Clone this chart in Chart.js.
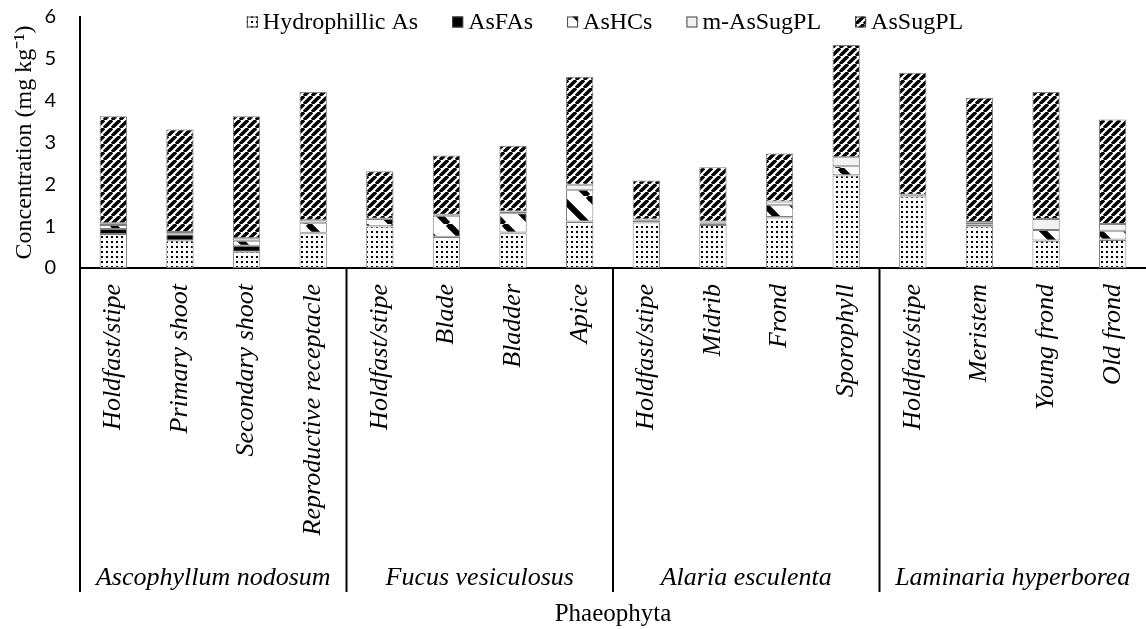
<!DOCTYPE html>
<html>
<head>
<meta charset="utf-8">
<title>Arsenic species in Phaeophyta</title>
<script src="https://cdn.jsdelivr.net/npm/chart.js@4.4.1/dist/chart.umd.min.js"></script>
<style>
    html, body { margin: 0; padding: 0; background: #fff; }
    #wrap { width: 1146px; height: 629px; position: relative; }
</style>
</head>
<body>
<div id="wrap"><canvas id="asChart"></canvas></div>
<script>
// Tissue labels (x axis) and the species they belong to
const tissues = ['Holdfast/stipe', 'Primary shoot', 'Secondary shoot', 'Reproductive receptacle',
    'Holdfast/stipe', 'Blade', 'Bladder', 'Apice',
    'Holdfast/stipe', 'Midrib', 'Frond', 'Sporophyll',
    'Holdfast/stipe', 'Meristem', 'Young frond', 'Old frond'];
const species = ['Ascophyllum nodosum', 'Fucus vesiculosus', 'Alaria esculenta', 'Laminaria hyperborea'];
const tissuesPerSpecies = 4;

// Concentrations (mg kg-1)
const hydrophillicAs = [0.81, 0.66, 0.39, 0.83, 0.99, 0.74, 0.83, 1.10, 1.09, 1.03, 1.21, 2.21, 1.71, 0.99, 0.65, 0.67];
const asFAs          = [0.12, 0.14, 0.14, 0.01, 0.01, 0.01, 0.02, 0.01, 0.01, 0.04, 0.01, 0.01, 0.01, 0.05, 0.01, 0.01];
const asHCs          = [0.10, 0.03, 0.12, 0.24, 0.17, 0.50, 0.46, 0.76, 0.03, 0.02, 0.29, 0.21, 0.02, 0.04, 0.25, 0.21];
const mAsSugPL       = [0.04, 0.03, 0.06, 0.06, 0.01, 0.02, 0.04, 0.12, 0.03, 0.02, 0.08, 0.22, 0.01, 0.02, 0.26, 0.16];
const asSugPL        = [2.56, 2.45, 2.92, 3.07, 1.13, 1.42, 1.57, 2.58, 0.93, 1.30, 1.15, 2.68, 2.92, 2.97, 3.04, 2.50];

const yTicks = [0, 1, 2, 3, 4, 5, 6];

const SERIF = '"Liberation Serif", "Times New Roman", serif';

// Build a repeating fill pattern from a small canvas
function makePattern(size, draw) {
    const c = document.createElement('canvas');
    c.width = size;
    c.height = size;
    const g = c.getContext('2d');
    g.fillStyle = '#ffffff';
    g.fillRect(0, 0, size, size);
    draw(g, size);
    return g.createPattern(c, 'repeat');
}

const dotted = makePattern(5, function(g) {
    g.fillStyle = '#000';
    g.fillRect(1, 1, 2, 2);
});

const upDiagonal = makePattern(8, function(g, s) {
    g.strokeStyle = '#000';
    g.lineWidth = 3.4;
    for (let k = -1; k <= 1; k++) {
        g.beginPath();
        g.moveTo(k * s, s);
        g.lineTo(k * s + s, 0);
        g.stroke();
    }
});

const downDiagonal = makePattern(28, function(g, s) {
    g.strokeStyle = '#000';
    g.lineWidth = 6;
    for (let k = -1; k <= 1; k++) {
        g.beginPath();
        g.moveTo(k * s, 0);
        g.lineTo(k * s + s, s);
        g.stroke();
    }
});

function series(label, data, fill) {
    return {
        label: label,
        data: data,
        backgroundColor: fill,
        borderColor: '#7f7f7f',
        borderWidth: 1,
        borderSkipped: false,
        barPercentage: 0.41,
        categoryPercentage: 1.0
    };
}

// Legend drawn on top of the plot area, like the original
const topLegend = {
    id: 'topLegend',
    afterDraw(chart) {
        const ctx = chart.ctx;
        const box = 11;
        const gap = 5;
        const spacing = 34;
        ctx.save();
        ctx.font = '24px ' + SERIF;
        ctx.textBaseline = 'middle';
        const items = chart.data.datasets;
        let total = 0;
        items.forEach(ds => { total += box + gap + ctx.measureText(ds.label).width; });
        total += spacing * (items.length - 1);
        let x = (chart.chartArea.left + chart.chartArea.right) / 2 - total / 2 - 8;
        const y = 22;
        items.forEach(ds => {
            ctx.fillStyle = ds.backgroundColor;
            ctx.fillRect(x, y - box / 2, box, box);
            ctx.strokeStyle = '#404040';
            ctx.lineWidth = 1;
            ctx.strokeRect(x + 0.5, y - box / 2 + 0.5, box - 1, box - 1);
            ctx.fillStyle = '#000';
            ctx.fillText(ds.label, x + box + gap, y + 1);
            x += box + gap + ctx.measureText(ds.label).width + spacing;
        });
        ctx.restore();
    }
};

// Species separators and species names under the tissue labels
const speciesAxis = {
    id: 'speciesAxis',
    afterDraw(chart) {
        const ctx = chart.ctx;
        const xs = chart.scales.x;
        const area = chart.chartArea;
        const half = (xs.getPixelForValue(1) - xs.getPixelForValue(0)) / 2;
        ctx.save();
        ctx.strokeStyle = '#000';
        ctx.lineWidth = 2;
        for (let i = 0; i < species.length; i++) {
            const first = i * tissuesPerSpecies;
            const last = first + tissuesPerSpecies - 1;
            const x0 = xs.getPixelForValue(first) - half;
            const x1 = xs.getPixelForValue(last) + half;
            ctx.beginPath();
            ctx.moveTo(x0, area.bottom);
            ctx.lineTo(x0, area.bottom + 324);
            ctx.stroke();
            ctx.fillStyle = '#000';
            ctx.font = 'italic 26px ' + SERIF;
            ctx.textAlign = 'center';
            ctx.textBaseline = 'alphabetic';
            ctx.fillText(species[i], (x0 + x1) / 2, area.bottom + 317);
        }
        ctx.restore();
    }
};

document.addEventListener('DOMContentLoaded', function() {
    const ctx = document.getElementById('asChart').getContext('2d');
    new Chart(ctx, {
        type: 'bar',
        data: {
            labels: tissues,
            datasets: [
                series('Hydrophillic As', hydrophillicAs, dotted),
                series('AsFAs', asFAs, '#000000'),
                series('AsHCs', asHCs, downDiagonal),
                series('m-AsSugPL', mAsSugPL, '#f2f2f2'),
                series('AsSugPL', asSugPL, upDiagonal)
            ]
        },
        options: {
            responsive: true,
            maintainAspectRatio: false,
            animation: false,
            layout: { padding: { top: 17, right: 0, bottom: 0, left: 0 } },
            plugins: {
                legend: { display: false },
                tooltip: { enabled: false }
            },
            scales: {
                x: {
                    stacked: true,
                    grid: { display: false, drawTicks: false },
                    border: { display: true, color: '#000', width: 2 },
                    ticks: {
                        autoSkip: false,
                        minRotation: 90,
                        maxRotation: 90,
                        padding: 16,
                        color: '#000',
                        font: { family: SERIF, size: 26, style: 'italic' }
                    },
                    title: {
                        display: true,
                        text: 'Phaeophyta',
                        color: '#000',
                        padding: { top: 0, bottom: 0 },
                        font: { family: SERIF, size: 25 }
                    },
                    afterFit(scale) {
                        scale.height = 361;
                        scale.paddingLeft = 0;
                        scale.paddingRight = 0;
                    }
                },
                y: {
                    stacked: true,
                    min: 0,
                    max: 6,
                    grid: { display: false, drawTicks: false },
                    border: { display: true, color: '#000', width: 2 },
                    afterBuildTicks(scale) { scale.ticks = yTicks.map(v => ({ value: v })); },
                    ticks: {
                        padding: 24,
                        color: '#000',
                        font: { family: 'Lato, "Open Sans", sans-serif', size: 20 }
                    },
                    title: {
                        display: true,
                        text: 'Concentration (mg kg⁻¹)',
                        color: '#000',
                        padding: { top: 10, bottom: 0 },
                        font: { family: SERIF, size: 24 }
                    },
                    afterFit(scale) {
                        scale.width = 80;
                        scale.paddingTop = 0;
                        scale.paddingBottom = 0;
                    }
                }
            }
        },
        plugins: [topLegend, speciesAxis]
    });
});
</script>
</body>
</html>
